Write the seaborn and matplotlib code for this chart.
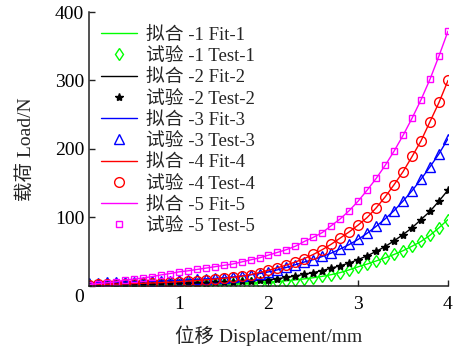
import numpy as np
import pandas as pd
import matplotlib
matplotlib.use("Agg")
import matplotlib.pyplot as plt
import matplotlib.transforms as mtransforms
import seaborn as sns

# displacement (mm), 0.1 mm steps
disp = [round(0.1 * i, 1) for i in range(41)]

load1 = [1.0, 1.1, 1.2, 1.3, 1.4, 1.5, 1.6, 1.7, 1.8, 1.9,
         2.0, 2.1, 2.3, 2.5, 2.7, 3.0, 3.3, 3.7, 4.2, 4.8,
         5.5, 6.4, 7.5, 8.8, 10.3, 12.0, 14.0, 16.5, 19.5, 23.5,
         28.0, 32.0, 36.5, 41.0, 46.0, 51.5, 58.0, 65.0, 74.0, 85.0, 97.0]
load2 = [2.5, 2.6, 2.7, 2.8, 2.9, 3.0, 3.2, 3.4, 3.6, 3.8,
         4.0, 4.3, 4.6, 5.0, 5.4, 5.9, 6.4, 7.0, 7.6, 8.3,
         9.0, 10.5, 12.5, 14.5, 17.0, 19.5, 22.5, 26.0, 29.5, 33.5,
         38.5, 44.0, 50.5, 57.5, 66.0, 75.0, 85.0, 97.0, 109.0, 124.0, 140.0]
load3 = [4.5, 4.8, 5.1, 5.4, 5.7, 6.0, 6.4, 6.8, 7.2, 7.7,
         8.2, 8.8, 9.5, 10.2, 11.0, 12.0, 13.2, 14.6, 16.2, 18.0,
         20.5, 23.5, 27.0, 31.0, 35.0, 38.5, 43.0, 48.0, 54.0, 60.5,
         68.0, 77.0, 87.0, 98.0, 110.0, 124.0, 139.0, 156.0, 174.0, 193.0, 215.0]
load4 = [2.0, 2.2, 2.4, 2.7, 3.0, 3.4, 3.8, 4.3, 4.9, 5.5,
         6.2, 7.0, 7.9, 8.9, 10.0, 11.2, 12.6, 14.2, 16.5, 19.5,
         23.0, 26.5, 30.5, 35.0, 40.0, 46.0, 53.0, 61.0, 70.0, 79.0,
         89.0, 100.0, 114.0, 130.0, 148.0, 167.0, 189.0, 212.0, 240.0, 268.0, 300.0]
load5 = [2.0, 3.5, 4.5, 6.0, 8.5, 10.0, 11.5, 13.5, 16.0, 18.0,
         20.5, 22.0, 24.0, 26.0, 28.0, 30.0, 32.0, 35.0, 38.0, 41.0,
         45.0, 49.0, 53.0, 58.0, 65.0, 71.0, 78.0, 88.0, 98.0, 110.0,
         124.0, 140.0, 157.0, 176.0, 197.0, 220.0, 245.0, 272.0, 302.0, 336.0, 372.0]

loads = [load1, load2, load3, load4, load5]
colors = ["#00ff00", "#000000", "#0000ff", "#ff0000", "#ff00ff"]
markers = ["d", "*", "^", "o", "s"]
msizes = [6.5, 6.0, 7.0, 7.0, 5.0]
fit_labels = ["拟合 -1 Fit-1", "拟合 -2 Fit-2", "拟合 -3 Fit-3", "拟合 -4 Fit-4", "拟合 -5 Fit-5"]
test_labels = ["试验 -1 Test-1", "试验 -2 Test-2", "试验 -3 Test-3", "试验 -4 Test-4", "试验 -5 Test-5"]

sns.set_style("ticks")
fonts = ["Liberation Serif", "Noto Sans CJK SC", "DejaVu Sans"]
plt.rcParams["font.family"] = fonts
plt.rcParams["axes.unicode_minus"] = False

fig = plt.figure(figsize=(4.55, 3.53), dpi=100)
ax = fig.add_axes([0.1956, 0.19, 0.7890, 0.776])

for i in range(5):
    df = pd.DataFrame({"disp": disp, "load": loads[i]})
    sns.lineplot(data=df, x="disp", y="load", ax=ax, color=colors[i],
                 linewidth=1.0, label=fit_labels[i], estimator=None, sort=False)
    filled = markers[i] == "*"
    sns.lineplot(data=df, x="disp", y="load", ax=ax, color=colors[i],
                 linestyle="", marker=markers[i], markersize=msizes[i],
                 mfc=colors[i] if filled else "none", mec=colors[i], mew=1.0,
                 label=test_labels[i], estimator=None, sort=False)

ax.set_xlim(0, 4)
ax.set_ylim(0, 400)
ax.set_xticks([1, 2, 3, 4])
ax.set_yticks([0, 100, 200, 300, 400])
ax.tick_params(direction="in", length=4, width=1, labelsize=14, colors="#222222",
               labelcolor="black")
ax.tick_params(axis="x", pad=7)
for s in ["top", "right"]:
    ax.spines[s].set_visible(False)
for s in ["left", "bottom"]:
    ax.spines[s].set_linewidth(1.1)
    ax.spines[s].set_color("#222222")

ax.set_xlabel("位移 Displacement/mm", fontsize=14, labelpad=9)
ax.set_ylabel("载荷 Load/N", fontsize=14, labelpad=14)

# the 0 label sits a little below its tick in the reference
lab0 = ax.get_yticklabels()[0]
lab0.set_transform(lab0.get_transform() + mtransforms.ScaledTranslation(0, -7 / 72, fig.dpi_scale_trans))

leg = ax.legend(loc="upper left", frameon=False, fontsize=13.5, handlelength=1.9,
                handletextpad=0.5, labelspacing=0.22, borderaxespad=0.0,
                bbox_to_anchor=(0.0125, 0.974))

fig.savefig("out.png", dpi=100)
